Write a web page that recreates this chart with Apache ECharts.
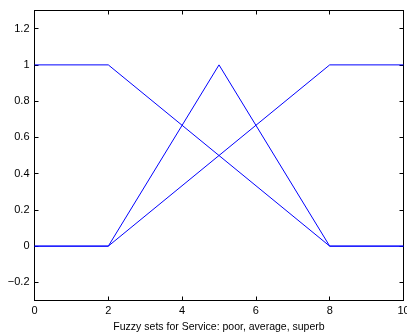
<!DOCTYPE html>
<html><head><meta charset="utf-8">
<script src="https://cdn.jsdelivr.net/npm/echarts@6/dist/echarts.min.js"></script>
<style>html,body{margin:0;padding:0;background:#fff}#c{width:407px;height:332px}</style>
</head><body><div id="c"></div>
<script>
const xPoor = [0, 2, 8, 10];
const yPoor = [1, 1, 0, 0];
const xAverage = [0, 2, 5, 8, 10];
const yAverage = [0, 0, 1, 0, 0];
const xSuperb = [0, 2, 8, 10];
const ySuperb = [0, 0, 1, 1];
const xTicks = [0, 2, 4, 6, 8, 10];
const yTicks = [-0.2, 0, 0.2, 0.4, 0.6, 0.8, 1, 1.2];
const xTitle = 'Fuzzy sets for Service: poor, average, superb';

const font = 'Liberation Sans, Helvetica, Arial, sans-serif';
const pair = (xs, ys) => xs.map((x, i) => [x, ys[i]]);
const lineStyle = {color: '#0000ff', width: 1};
const mk = (name, d) => ({name, type: 'line', data: d, symbol: 'none', lineStyle, xAxisIndex: 0, yAxisIndex: 0, animation: false});
const axLine = {show: true, onZero: false, lineStyle: {color: '#000', width: 1}};
const chart = echarts.init(document.getElementById('c'));
chart.setOption({
  animation: false,
  grid: {left: 34.5, right: 3.5, top: 10.5, bottom: 31.5, containLabel: false, outerBoundsMode: 'none'},
  xAxis: [
    {type: 'value', min: 0, max: 10, position: 'bottom', axisLine: axLine,
     axisTick: {show: true, inside: true, length: 4, customValues: xTicks, lineStyle: {color: '#000'}},
     axisLabel: {customValues: xTicks, color: '#000', fontFamily: font, fontSize: 11, margin: 5},
     splitLine: {show: false},
     name: xTitle, nameLocation: 'middle', nameGap: 19, nameTextStyle: {color: '#000', fontFamily: font, fontSize: 10.5}},
    {type: 'value', min: 0, max: 10, position: 'top', axisLine: axLine,
     axisTick: {show: true, inside: true, length: 4, customValues: xTicks, lineStyle: {color: '#000'}},
     axisLabel: {show: false}, splitLine: {show: false}}
  ],
  yAxis: [
    {type: 'value', min: -0.3, max: 1.3, position: 'left', axisLine: axLine,
     axisTick: {show: true, inside: true, length: 4, customValues: yTicks, lineStyle: {color: '#000'}},
     axisLabel: {customValues: yTicks, color: '#000', fontFamily: font, fontSize: 11, margin: 5,
       formatter: v => String(Math.round(v * 10) / 10).replace('-', '\u2212')},
     splitLine: {show: false}},
    {type: 'value', min: -0.3, max: 1.3, position: 'right', axisLine: axLine,
     axisTick: {show: true, inside: true, length: 4, customValues: yTicks, lineStyle: {color: '#000'}},
     axisLabel: {show: false}, splitLine: {show: false}}
  ],
  series: [
    mk('poor', pair(xPoor, yPoor)),
    mk('average', pair(xAverage, yAverage)),
    mk('superb', pair(xSuperb, ySuperb))
  ]
});
</script></body></html>
